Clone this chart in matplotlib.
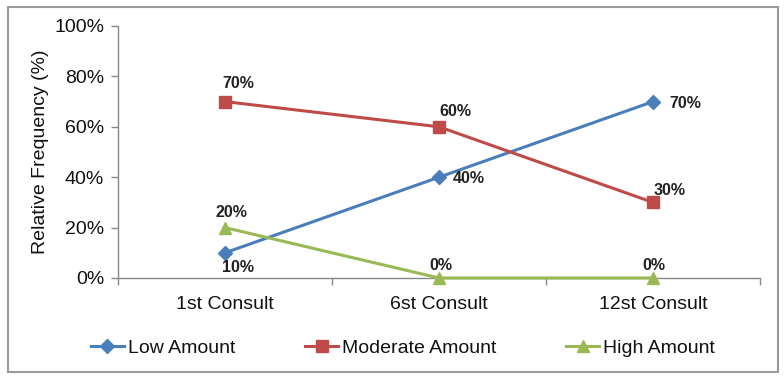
import matplotlib.pyplot as plt
from matplotlib.patches import Rectangle
from matplotlib.ticker import PercentFormatter, FixedLocator

plt.rcParams['font.family'] = ['Liberation Sans', 'DejaVu Sans']

# Consultations and relative frequencies (%)
consults = ["1st Consult", "6st Consult", "12st Consult"]
low_amount = [10, 40, 70]
moderate_amount = [70, 60, 30]
high_amount = [20, 0, 0]

# label offsets (pixels) for each series' data labels
low_offsets = [(13, -15, 'center'), (14, -1, 'left'), (16, -2, 'left')]
mod_offsets = [(13, 18, 'center'), (16, 15, 'center'), (17, 12, 'center')]
high_offsets = [(6, 15, 'center'), (2, 13, 'center'), (1, 13, 'center')]

series = [
    ("Low Amount", low_amount, "#4a7ebb", "D", 7, low_offsets),
    ("Moderate Amount", moderate_amount, "#be4b48", "s", 9, mod_offsets),
    ("High Amount", high_amount, "#98b954", "^", 9, high_offsets),
]

fig = plt.figure(figsize=(7.84, 3.78), dpi=100)
ax = fig.add_axes([118 / 784, 1 - 278 / 378, 642 / 784, 252 / 378])

x = list(range(len(consults)))
for name, vals, color, marker, ms, offs in series:
    ax.plot(x, vals, color=color, marker=marker, markersize=ms, lw=2.2,
            label=name, clip_on=False, zorder=3)
    for xi, v, (dx, dy, ha) in zip(x, vals, offs):
        ax.annotate(f"{v}%", (xi, v), xytext=(dx, dy), textcoords='offset pixels',
                    ha=ha, va='center', fontsize=11.5, fontweight='bold',
                    color='#222222')

ax.set_xlim(-0.5, 2.5)
ax.set_ylim(0, 100)
ax.set_yticks(range(0, 101, 20))
ax.yaxis.set_major_formatter(PercentFormatter(decimals=0))
ax.set_xticks(x)
ax.set_xticklabels(consults)
ax.xaxis.set_minor_locator(FixedLocator([-0.5, 0.5, 1.5, 2.5]))
ax.tick_params(axis='x', which='major', length=0, pad=13, labelsize=14,
               labelcolor='#111111')
ax.tick_params(axis='x', which='minor', length=5, color='#888888', width=1)
ax.tick_params(axis='y', length=5, color='#888888', width=1, pad=5, labelsize=14,
               labelcolor='#111111')
ax.set_ylabel("Relative Frequency (%)", fontsize=14, labelpad=4, color='#111111')

for s in ['top', 'right']:
    ax.spines[s].set_visible(False)
for s in ['left', 'bottom']:
    ax.spines[s].set_color('#888888')
    ax.spines[s].set_linewidth(1)

fig.legend(loc='center', bbox_to_anchor=(403 / 784, 1 - 348 / 378), ncol=3,
           frameon=False, fontsize=14, handlelength=1.7, handletextpad=0.2,
           columnspacing=3.6, labelcolor='#111111')

fig.patches.append(Rectangle((8 / 784, 6 / 378), 770 / 784, 365 / 378,
                             transform=fig.transFigure, fill=False,
                             edgecolor='#9a9a9a', linewidth=1.5))

fig.savefig("out.png", dpi=100)
